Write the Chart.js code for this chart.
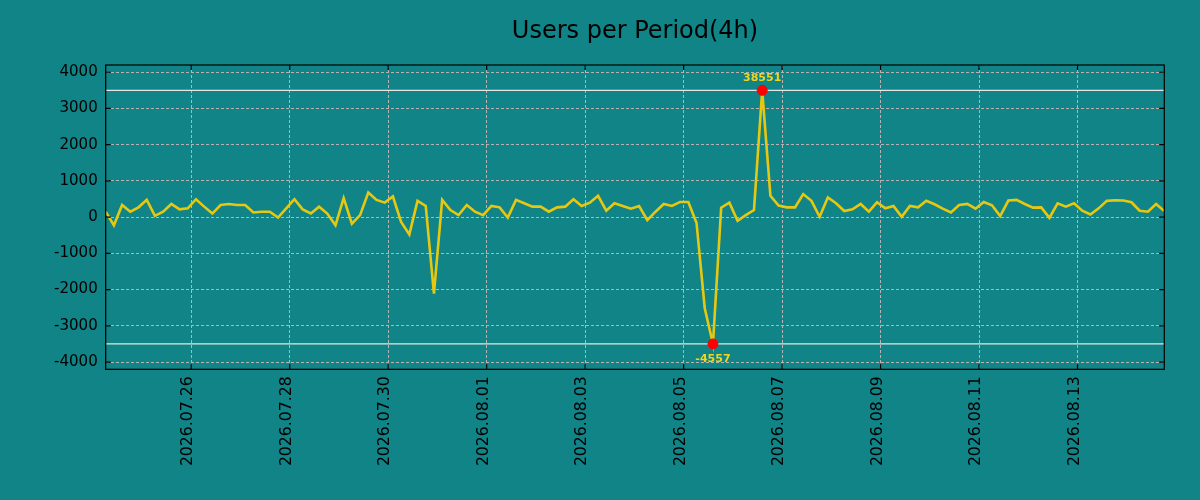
<!DOCTYPE html>
<html>
<head>
<meta charset="utf-8">
<title>Users per Period(4h)</title>
<script src="https://cdn.jsdelivr.net/npm/chart.js@4.4.1/dist/chart.umd.min.js"></script>
<style>
  html, body { margin: 0; padding: 0; background: #108487; }
  #wrap { width: 1200px; height: 500px; }
</style>
</head>
<body>
<div id="wrap"><canvas id="usersChart" width="1200" height="500"></canvas></div>
<script>
// first period starts 2026.07.24 ~06:18, one point every 4 hours
const startDay = [2026, 7, 24];
const startHour = 6.3;
const periodHours = 4;

// users per 4h period (raw values, extremes are clipped to the cap lines)
const userCounts = [
  150, -225, 336, 150, 271, 477, 37, 150, 364, 215,
  243, 495, 290, 100, 336, 364, 336, 336, 130, 150,
  150, -10, 243, 495, 215, 100, 290, 100, -225, 523,
  -180, 56, 682, 477, 400, 570, -130, -477, 450, 308,
  -2112, 477, 196, 56, 336, 150, 56, 308, 271, -10,
  477, 383, 290, 290, 150, 271, 290, 495, 308, 400,
  589, 178, 383, 308, 234, 308, -84, 150, 364, 308,
  420, 420, -160, -2514, -4557, 262, 400, -103, 56, 196,
  38551, 589, 318, 271, 271, 636, 450, 10, 542, 383,
  168, 215, 364, 150, 411, 243, 308, 10, 308, 271,
  450, 355, 234, 130, 336, 364, 234, 420, 327, 28,
  458, 477, 364, 262, 271, -19, 383, 290, 383, 178,
  75, 243, 450, 467, 458, 411, 178, 150, 364, 168
];

// horizontal cap lines
const capLines = [3500, -3500];

const yTicks = [-4000, -3000, -2000, -1000, 0, 1000, 2000, 3000, 4000];
const xTickLabels = [
  '2026.07.26', '2026.07.28', '2026.07.30', '2026.08.01', '2026.08.03',
  '2026.08.05', '2026.08.07', '2026.08.09', '2026.08.11', '2026.08.13'
];

const chartTitle = 'Users per Period(4h)';

const cap = capLines[0];
const baseMs = Date.UTC(startDay[0], startDay[1] - 1, startDay[2]);
const hoursFromStart = label => {
  const [y, m, d] = label.split('.').map(Number);
  return (Date.UTC(y, m - 1, d) - baseMs) / 3600000;
};
const xTickHours = xTickLabels.map(hoursFromStart);

const xMin = startHour;
const xMax = startHour + (userCounts.length - 1) * periodHours;

const linePoints = userCounts.map((v, i) => ({
  x: startHour + i * periodHours,
  y: Math.max(-cap, Math.min(cap, v))
}));

const maxIdx = userCounts.indexOf(Math.max(...userCounts));
const minIdx = userCounts.indexOf(Math.min(...userCounts));
const extremes = [maxIdx, minIdx].map(i => ({ ...linePoints[i], raw: userCounts[i] }));

const gridColor = '#bfb0b0';

const background = {
  id: 'background',
  beforeDraw(chart) {
    const ctx = chart.ctx;
    ctx.save();
    ctx.fillStyle = '#108487';
    ctx.fillRect(0, 0, chart.width, chart.height);
    ctx.restore();
  }
};

// title centred over the plot area, not the whole canvas
const plotTitle = {
  id: 'plotTitle',
  afterDraw(chart) {
    const { ctx, chartArea: a } = chart;
    ctx.save();
    ctx.font = '24px "DejaVu Sans"';
    ctx.fillStyle = '#000';
    ctx.textAlign = 'center';
    ctx.textBaseline = 'alphabetic';
    ctx.fillText(chartTitle, (a.left + a.right) / 2, 37.5);
    ctx.restore();
  }
};

// black frame with inward tick marks on all four sides
const frame = {
  id: 'frame',
  afterDraw(chart) {
    const { ctx, chartArea: a, scales: { x, y } } = chart;
    ctx.save();
    ctx.strokeStyle = '#000';
    ctx.lineWidth = 1.2;
    ctx.strokeRect(a.left, a.top, a.right - a.left, a.bottom - a.top);
    ctx.beginPath();
    yTicks.forEach(v => {
      const py = y.getPixelForValue(v);
      ctx.moveTo(a.left, py); ctx.lineTo(a.left + 5, py);
      ctx.moveTo(a.right, py); ctx.lineTo(a.right - 5, py);
    });
    xTickHours.forEach(v => {
      const px = x.getPixelForValue(v);
      ctx.moveTo(px, a.top); ctx.lineTo(px, a.top + 5);
      ctx.moveTo(px, a.bottom); ctx.lineTo(px, a.bottom - 5);
    });
    ctx.stroke();
    ctx.restore();
  }
};

const extremeLabels = {
  id: 'extremeLabels',
  afterDatasetsDraw(chart) {
    const { ctx, scales: { x, y } } = chart;
    ctx.save();
    ctx.font = 'bold 11px "DejaVu Sans"';
    ctx.fillStyle = '#f4d41a';
    ctx.textAlign = 'center';
    extremes.forEach(p => {
      const px = x.getPixelForValue(p.x);
      const py = y.getPixelForValue(p.y);
      if (p.raw >= 0) {
        ctx.textBaseline = 'alphabetic';
        ctx.fillText(String(p.raw), px, py - 9);
      } else {
        ctx.textBaseline = 'top';
        ctx.fillText(String(p.raw), px, py + 10);
      }
    });
    ctx.restore();
  }
};

const capDatasets = capLines.map(v => ({
  data: [{ x: xMin, y: v }, { x: xMax, y: v }],
  borderColor: '#e6e6e6',
  borderWidth: 1.3,
  pointRadius: 0,
  order: 3
}));

new Chart(document.getElementById('usersChart'), {
  type: 'line',
  data: {
    datasets: [
      {
        type: 'scatter',
        data: extremes.map(p => ({ x: p.x, y: p.y })),
        backgroundColor: '#ff0000',
        borderColor: '#ff0000',
        pointRadius: 5,
        order: 0
      },
      {
        data: linePoints,
        borderColor: '#e6c812',
        borderWidth: 2.6,
        pointRadius: 0,
        tension: 0,
        order: 1
      },
      ...capDatasets
    ]
  },
  options: {
    responsive: false,
    animation: false,
    layout: { padding: { left: 0, right: 35.7, top: 65, bottom: 0 } },
    plugins: {
      legend: { display: false },
      tooltip: { enabled: false },
      title: { display: false }
    },
    scales: {
      x: {
        type: 'linear',
        min: xMin,
        max: xMax,
        afterBuildTicks: axis => { axis.ticks = xTickHours.map(v => ({ value: v })); },
        afterFit: axis => { axis.height = 130.7; },
        ticks: {
          autoSkip: false,
          minRotation: 90,
          maxRotation: 90,
          padding: 7,
          labelOffset: -3,
          color: '#000',
          font: { family: 'DejaVu Sans', size: 15.7 },
          callback: (v, i) => xTickLabels[i]
        },
        grid: { color: gridColor, lineWidth: 1, drawTicks: false },
        border: { color: '#000', dash: [3, 2] }
      },
      y: {
        min: -4200,
        max: 4200,
        afterBuildTicks: axis => { axis.ticks = yTicks.map(v => ({ value: v })); },
        afterFit: axis => { axis.width = 105.7; },
        ticks: {
          padding: 8,
          color: '#000',
          font: { family: 'DejaVu Sans', size: 15 },
          callback: v => String(v)
        },
        grid: { color: gridColor, lineWidth: 1, drawTicks: false },
        border: { color: '#000', dash: [3, 2] }
      }
    }
  },
  plugins: [background, plotTitle, frame, extremeLabels]
});
</script>
</body>
</html>
